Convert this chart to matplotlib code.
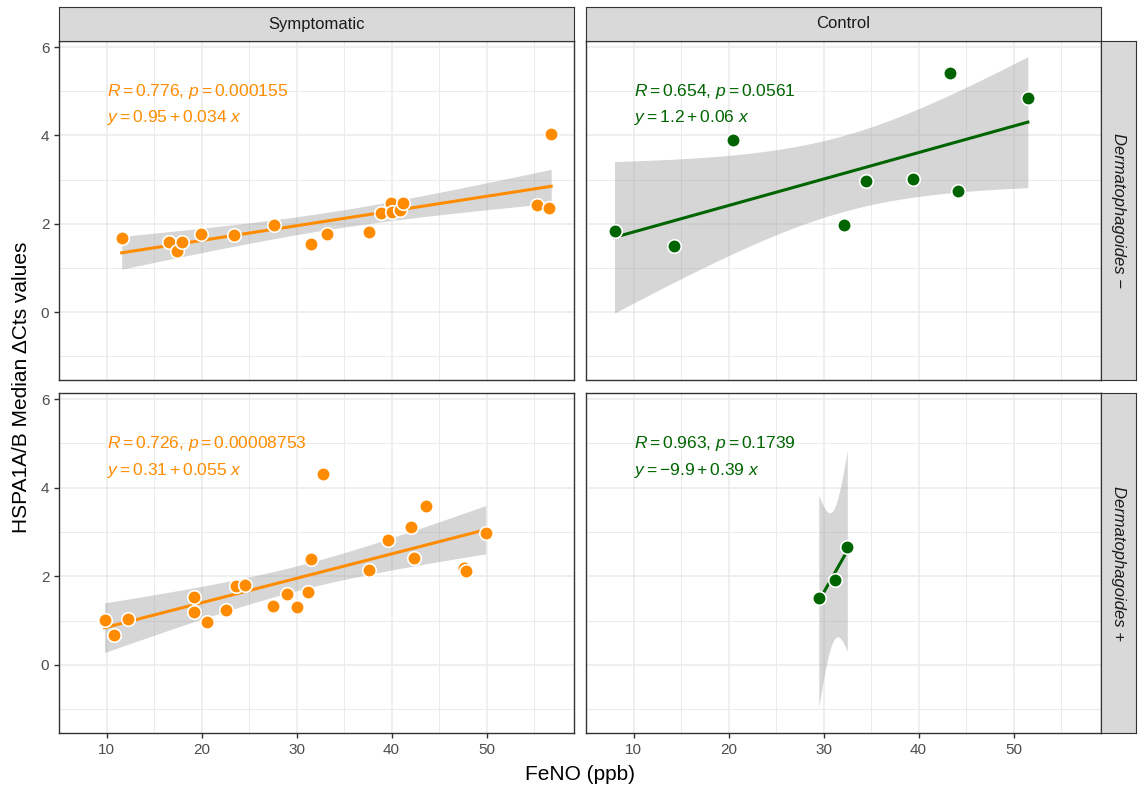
import numpy as np
import matplotlib
matplotlib.use('Agg')
import matplotlib.pyplot as plt

plt.rcParams['font.family'] = ['Liberation Sans', 'DejaVu Sans']
plt.rcParams['mathtext.fontset'] = 'custom'
plt.rcParams['mathtext.rm'] = 'Liberation Sans'
plt.rcParams['mathtext.it'] = 'Liberation Sans:italic'

# data: FeNO (ppb) vs HSPA1A/B median dCt
symp_neg_x = [11.6, 16.6, 17.4, 17.9, 19.9, 23.4, 27.6, 31.5, 33.2, 37.6, 38.9, 39.9, 40.0, 40.9, 41.2, 55.3, 56.6, 56.8]
symp_neg_y = [1.67, 1.59, 1.39, 1.59, 1.76, 1.74, 1.98, 1.53, 1.76, 1.82, 2.25, 2.47, 2.27, 2.31, 2.47, 2.42, 2.35, 4.03]

ctrl_neg_x = [8.0, 14.3, 20.5, 32.2, 34.5, 39.4, 43.3, 44.1, 51.5]
ctrl_neg_y = [1.84, 1.50, 3.89, 1.97, 2.96, 3.02, 5.41, 2.74, 4.85]

symp_pos_x = [9.8, 10.8, 12.3, 19.2, 19.2, 20.6, 22.6, 23.6, 24.6, 27.5, 29.0, 30.0, 31.2, 31.5, 32.8, 37.6, 39.6, 42.0, 42.4, 43.6, 47.6, 47.8, 49.9]
symp_pos_y = [1.02, 0.68, 1.03, 1.53, 1.19, 0.96, 1.24, 1.78, 1.81, 1.33, 1.61, 1.31, 1.64, 2.39, 4.31, 2.15, 2.82, 3.11, 2.42, 3.59, 2.19, 2.13, 2.98]

ctrl_pos_x = [29.5, 31.2, 32.5]
ctrl_pos_y = [1.51, 1.92, 2.67]

r_labels = [r'$R = 0.776$, $p = 0.000155$', r'$R = 0.654$, $p = 0.0561$',
            r'$R = 0.726$, $p = 0.00008753$', r'$R = 0.963$, $p = 0.1739$']
eq_labels = [r'$y = 0.95 + 0.034\ x$', r'$y = 1.2 + 0.06\ x$',
             r'$y = 0.31 + 0.055\ x$', r'$y = -9.9 + 0.39\ x$']

groups = ['Symptomatic', 'Control']
allergen = ['Dermatophagoides \u2212', 'Dermatophagoides +']

ORANGE = '#FF8C00'
GREEN = '#006400'

# t 0.975 quantiles by degrees of freedom
T975 = {1: 12.706, 7: 2.365, 16: 2.120, 21: 2.080}

W, H = 1146, 790
fig = plt.figure(figsize=(W / 100, H / 100), dpi=100)


def rect(l, t, r, b):
    return [l / W, 1 - b / H, (r - l) / W, (b - t) / H]


cols = [(59, 574), (586, 1101)]
rows = [(41, 380), (393, 733)]

panels = [
    (0, 0, symp_neg_x, symp_neg_y, ORANGE),
    (0, 1, ctrl_neg_x, ctrl_neg_y, GREEN),
    (1, 0, symp_pos_x, symp_pos_y, ORANGE),
    (1, 1, ctrl_pos_x, ctrl_pos_y, GREEN),
]

for k, (ri, ci, xs, ys, col) in enumerate(panels):
    l, r = cols[ci]
    t, b = rows[ri]
    ax = fig.add_axes(rect(l, t, r, b))
    ax.set_xlim(5.7, 59.2)
    ax.set_ylim(-1.54, 6.14)
    ax.set_xticks([10, 20, 30, 40, 50])
    ax.set_xticks([5, 15, 25, 35, 45, 55], minor=True)
    ax.set_yticks([0, 2, 4, 6])
    ax.set_yticks([-1, 1, 3, 5], minor=True)
    ax.grid(which='major', color='#EBEBEB', lw=1.1)
    ax.grid(which='minor', color='#EBEBEB', lw=0.7)
    ax.set_axisbelow(True)
    for s in ax.spines.values():
        s.set_color('#333333')
        s.set_linewidth(1.0)
    ax.tick_params(which='minor', length=0)
    ax.tick_params(which='major', length=3.5, color='#333333', labelcolor='#4D4D4D',
                   labelsize=11, width=1)
    if ri == 0:
        ax.tick_params(axis='x', labelbottom=False, length=0)
    if ci == 1:
        ax.tick_params(axis='y', labelleft=False, length=0)

    x = np.array(xs)
    y = np.array(ys)
    n = len(x)
    slope, icpt = np.polyfit(x, y, 1)
    xg = np.linspace(x.min(), x.max(), 200)
    yg = icpt + slope * xg
    resid = y - (icpt + slope * x)
    s_err = np.sqrt(np.sum(resid ** 2) / (n - 2))
    sxx = np.sum((x - x.mean()) ** 2)
    se = s_err * np.sqrt(1 / n + (xg - x.mean()) ** 2 / sxx)
    tq = T975[n - 2]
    ax.fill_between(xg, yg - tq * se, yg + tq * se, color='#999999', alpha=0.4, lw=0, zorder=2)
    ax.plot(xg, yg, color=col, lw=2.2, zorder=3)
    ax.scatter(x, y, s=95, color=col, edgecolor='white', linewidth=1.2, zorder=4)

    ax.text(10, 5.0, r_labels[k], color=col, fontsize=12.5, ha='left', va='center')
    ax.text(10, 4.4, eq_labels[k], color=col, fontsize=12.5, ha='left', va='center')

# strips on top
for ci, (l, r) in enumerate(cols):
    sax = fig.add_axes(rect(l, 7, r, 41))
    sax.set_facecolor('#D9D9D9')
    sax.set_xticks([])
    sax.set_yticks([])
    for s in sax.spines.values():
        s.set_color('#333333')
    sax.text(0.5, 0.5, groups[ci], ha='center', va='center', fontsize=12, color='#1A1A1A',
             transform=sax.transAxes)

# strips on the right
for ri, (t, b) in enumerate(rows):
    sax = fig.add_axes(rect(1101, t, 1136, b))
    sax.set_facecolor('#D9D9D9')
    sax.set_xticks([])
    sax.set_yticks([])
    for s in sax.spines.values():
        s.set_color('#333333')
    sax.text(0.5, 0.5, allergen[ri], ha='center', va='center', fontsize=12, color='#1A1A1A',
             rotation=-90, style='italic', transform=sax.transAxes)

fig.text(580 / W, 1 - 775 / H, 'FeNO (ppb)', ha='center', va='center', fontsize=15)
fig.text(22 / W, 1 - 387 / H, 'HSPA1A/B Median \u0394Cts values', ha='center', va='center',
         rotation=90, fontsize=15)

fig.savefig('out.png', dpi=100)
